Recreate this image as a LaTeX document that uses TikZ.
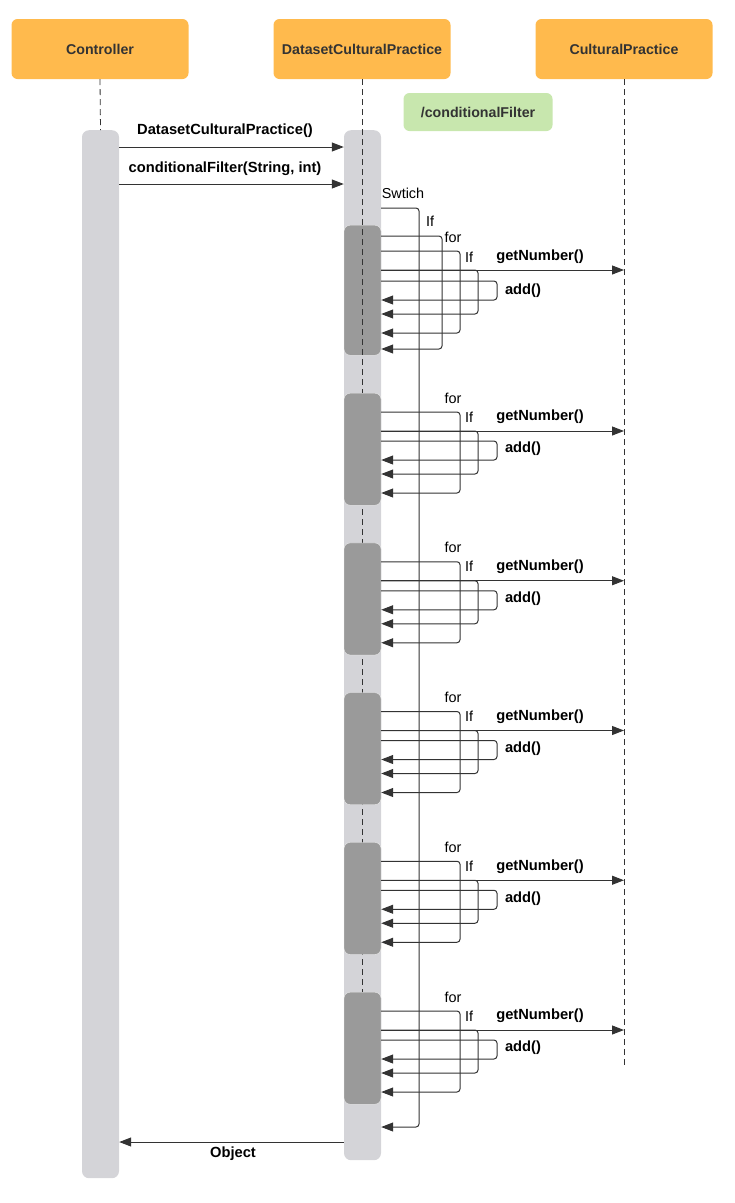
\documentclass[tikz,border=0pt]{standalone}
\usepackage{fontspec}
\setmainfont{Liberation Sans}
\usetikzlibrary{arrows.meta}

\definecolor{headorange}{HTML}{FFBA4D}
\definecolor{notegreen}{HTML}{C8E7AE}
\definecolor{barlight}{HTML}{D4D4D8}
\definecolor{bardark}{HTML}{9A9A9A}
\definecolor{inkgray}{HTML}{333333}

\tikzset{
  head/.style={fill=headorange, rounded corners=6pt, minimum width=177pt,
    minimum height=60pt, text=inkgray, font=\bfseries\fontsize{14.2}{16}\selectfont},
  note/.style={fill=notegreen, rounded corners=6pt, minimum width=149pt,
    minimum height=38pt, text=inkgray, font=\bfseries\fontsize{14.2}{16}\selectfont},
  lifebar/.style={fill=barlight, rounded corners=7pt, minimum width=37pt,
    anchor=north, inner sep=0pt},
  block/.style={fill=bardark, draw=white!85!gray, rounded corners=6pt,
    minimum width=37pt, anchor=north, inner sep=0pt},
  life/.style={draw=inkgray, line width=0.8pt, dash pattern=on 6pt off 4pt},
  msg/.style={draw=inkgray, line width=1pt, rounded corners=3pt,
    -{Triangle[length=12pt,width=9pt]}},
  lbl/.style={inner sep=1pt, font=\fontsize{14.4}{16}\selectfont},
  blbl/.style={lbl, font=\bfseries\fontsize{14.7}{16}\selectfont}
}

\begin{document}
\begin{tikzpicture}[x=1pt,y=-1pt]
  \useasboundingbox (0,0) rectangle (735,1203);

  % participants
  \node[head] (ctrl) at (100,49) {Controller};
  \node[head] (dataset) at (362,49) {DatasetCulturalPractice};
  \node[head] (cultural) at (624,49) {CulturalPractice};
  \node[note] (filter) at (478,112) {/conditionalFilter};

  % activation bars
  \node[lifebar, minimum height=1048pt] (ctrlbar) at (100.5,130) {};
  \node[lifebar, minimum height=1030pt] (databar) at (362.5,130) {};
  \coordinate (culturalend) at (624,1068);
  \coordinate (dataend) at (362,1010);
  \draw[life] (ctrl.south) -- (ctrlbar.north);
  \draw[life] (cultural.south) -- (culturalend);

  % calls from the controller
  \node[blbl] (newlbl) at (225,131) {DatasetCulturalPractice()};
  \draw[msg] (ctrlbar.east |- 0,147) -- (databar.west |- 0,147);
  \node[blbl] (filterlbl) at (225,169) {conditionalFilter(String, int)};
  \draw[msg] (ctrlbar.east |- 0,184) -- (databar.west |- 0,184);

  % first case
  \node[block, minimum height=130pt] (blk1) at (362.5,225) {};
  \draw[life] (dataset.south) -- (dataend);
  \node[lbl] (swlbl) at (403,193) {Swtich};
  \node[lbl] (iflbl) at (430,221) {If};
  \node[lbl] (forlbl1) at (453,237) {for};
  \node[lbl] (inlbl1) at (469,257) {If};
  \node[blbl] (getlbl1) at (540,257) {getNumber()};
  \node[blbl] (addlbl1) at (523,291) {add()};
  \draw[msg] (blk1.east |- 0,236) -| (442,349) -- (blk1.east |- 0,349);
  \draw[msg] (blk1.east |- 0,251) -| (460,333) -- (blk1.east |- 0,333);
  \draw[msg] (blk1.east |- 0,270) -| (478,314) -- (blk1.east |- 0,314);
  \draw[msg] (blk1.east |- 0,270) -- (cultural |- 0,270);
  \draw[msg] (blk1.east |- 0,281) -| (497,300) -- (blk1.east |- 0,300);

  % other cases
  \foreach \i/\t in {2/393,3/542.75,4/692.5,5/842.25,6/992}{
    \node[block, minimum height=112pt] (blk\i) at (362.5,\t) {};
    \node[lbl] (forlbl\i) at (453,\t+5) {for};
    \node[lbl] (inlbl\i) at (469,\t+24) {If};
    \node[blbl] (getlbl\i) at (540,\t+24) {getNumber()};
    \node[blbl] (addlbl\i) at (523,\t+56) {add()};
    \draw[msg] (blk\i.east |- 0,\t+19) -| (460,\t+100) -- (blk\i.east |- 0,\t+100);
    \draw[msg] (blk\i.east |- 0,\t+38) -| (478,\t+81) -- (blk\i.east |- 0,\t+81);
    \draw[msg] (blk\i.east |- 0,\t+38) -- (cultural |- 0,\t+38);
    \draw[msg] (blk\i.east |- 0,\t+48) -| (497,\t+67) -- (blk\i.east |- 0,\t+67);
  }

  % switch frame
  \draw[msg] (databar.east |- 0,208) -| (419,1127) -- (databar.east |- 0,1127);

  % result
  \draw[msg] (databar.west |- 0,1142) -- (ctrlbar.east |- 0,1142);
  \node[blbl] (objlbl) at (233,1154) {Object};
\end{tikzpicture}
\end{document}
